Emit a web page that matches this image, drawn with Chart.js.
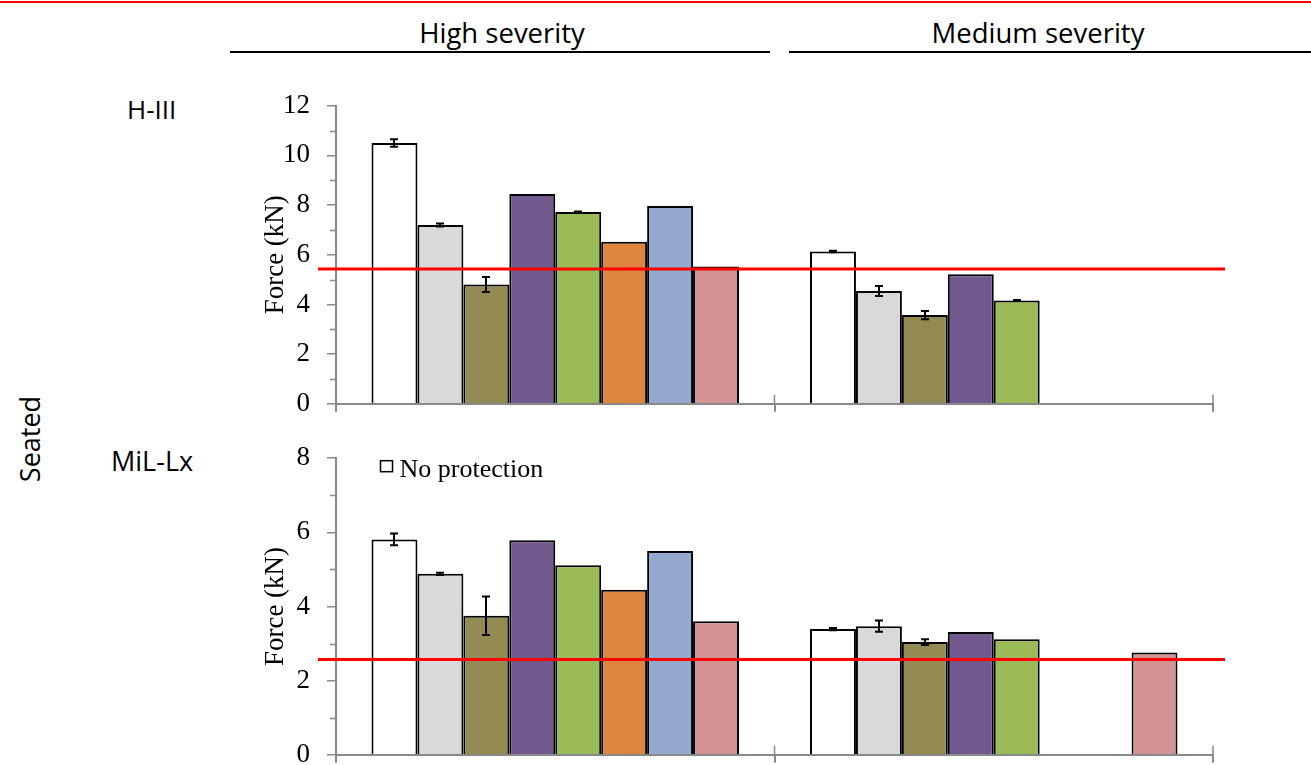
<!DOCTYPE html>
<html>
<head>
<meta charset="utf-8">
<script src="https://cdn.jsdelivr.net/npm/chart.js@4/dist/chart.umd.min.js"></script>
<style>
body{margin:0;background:#fff;width:1311px;height:765px;overflow:hidden;position:relative;font-family:"Open Sans",sans-serif;color:#000;}
.txt{position:absolute;font-size:26px;line-height:1;white-space:nowrap;}
.head{font-size:27.5px;}
.rule{position:absolute;height:2px;background:#000;}
canvas{position:absolute;left:0;}
</style>
</head>
<body>
<div style="position:absolute;left:0;top:1px;width:1311px;height:2px;background:#f00;"></div>
<div class="txt head" style="left:502px;top:19px;transform:translateX(-50%);">High severity</div>
<div class="txt head" style="left:1038px;top:19px;transform:translateX(-50%);">Medium severity</div>
<div class="rule" style="left:230px;top:51px;width:540px;"></div>
<div class="rule" style="left:789px;top:51px;width:522px;"></div>
<div class="txt" style="left:127px;top:96px;">H-III</div>
<div class="txt" style="left:111px;top:447px;font-size:27px;">MiL-Lx</div>
<div class="txt" style="left:29px;top:439px;font-size:27px;transform:translate(-50%,-50%) rotate(-90deg);">Seated</div>

<canvas id="h3Chart" width="1311" height="377" style="top:60px;"></canvas>
<canvas id="milChart" width="1311" height="363" style="top:425px;"></canvas>

<script>
// groups on the x axis
const categories = ["High severity", "Medium severity"];

// one series per protection condition (only the first one is named in the figure)
const seriesLabels = ["No protection", "Condition 2", "Condition 3", "Condition 4",
  "Condition 5", "Condition 6", "Condition 7", "Condition 8"];
const seriesColors = ["#ffffff", "#d9d9d9", "#948a54", "#71598e",
  "#9bbb59", "#dd843f", "#95a9cf", "#d39293"];

// H-III, force in kN
const h3High = [10.5, 7.2, 4.8, 8.45, 7.72, 6.52, 7.96, 5.53];
const h3Medium = [6.13, 4.54, 3.57, 5.22, 4.16, null, null, null];
const h3HighErr = [0.15, 0.06, 0.3, null, 0.02, null, null, null];
const h3MediumErr = [0.03, 0.2, 0.17, null, 0.02, null, null, null];
const h3Limit = 5.43;
const h3YMax = 12;

// MiL-Lx, force in kN
const milHigh = [5.81, 4.88, 3.75, 5.79, 5.11, 4.45, 5.5, 3.6];
const milMedium = [3.39, 3.47, 3.04, 3.31, 3.12, null, null, 2.76];
const milHighErr = [0.16, 0.03, 0.52, null, null, null, null, null];
const milMediumErr = [0.03, 0.15, 0.08, null, null, null, null, null];
const milLimit = 2.57;
const milYMax = 8;

const axisGray = "#898989";
const serif = "'Liberation Serif', 'Times New Roman', serif";

// error bars, minor ticks, threshold line and the small legend
const extras = {
  id: "extras",
  afterDatasetsDraw(chart, args, o) {
    const ctx = chart.ctx, x = chart.scales.x, y = chart.scales.y, ca = chart.chartArea;
    ctx.save();

    ctx.strokeStyle = "#000";
    ctx.lineWidth = 2;
    chart.data.datasets.forEach((ds, di) => {
      const meta = chart.getDatasetMeta(di);
      ds.err.forEach((e, i) => {
        if (e == null || ds.data[i] == null) return;
        const bx = Math.round(meta.data[i].x);
        const y1 = y.getPixelForValue(ds.data[i] + e);
        const y2 = y.getPixelForValue(ds.data[i] - e);
        ctx.beginPath();
        ctx.moveTo(bx, y1); ctx.lineTo(bx, y2);
        ctx.moveTo(bx - 4, y1); ctx.lineTo(bx + 4, y1);
        ctx.moveTo(bx - 4, y2); ctx.lineTo(bx + 4, y2);
        ctx.stroke();
      });
    });

    ctx.strokeStyle = axisGray;
    ctx.lineWidth = 1.5;
    ctx.beginPath();
    for (let v = 1; v < o.yMax; v += 2) {
      const py = Math.round(y.getPixelForValue(v)) + 0.5;
      ctx.moveTo(ca.left - 6, py); ctx.lineTo(ca.left, py);
    }
    const step = x.getPixelForValue(1) - x.getPixelForValue(0);
    categories.forEach((c, i) => {
      const bx = x.getPixelForValue(i) + step / 2;
      ctx.moveTo(bx, ca.bottom - 9); ctx.lineTo(bx, ca.bottom);
    });
    ctx.stroke();

    ctx.strokeStyle = "#ff0000";
    ctx.lineWidth = 3;
    const ly = y.getPixelForValue(o.limit);
    ctx.beginPath();
    ctx.moveTo(ca.left - 18, ly); ctx.lineTo(ca.right + 12, ly);
    ctx.stroke();

    if (o.legend) {
      const ds = chart.data.datasets[0];
      const lx = ca.left + 44.5, ty = ca.top + 2.5;
      ctx.fillStyle = ds.backgroundColor;
      ctx.fillRect(lx, ty, 12, 11);
      ctx.strokeStyle = "#000";
      ctx.lineWidth = 1.5;
      ctx.strokeRect(lx, ty, 12, 11);
      ctx.fillStyle = "#000";
      ctx.font = "26px " + serif;
      ctx.textBaseline = "middle";
      ctx.fillText(ds.label, lx + 19, ty + 9);
    }
    ctx.restore();
  }
};

function makeChart(id, high, medium, highErr, mediumErr, limit, yMax, padTop, padBottom, xHeight, legend) {
  const datasets = seriesLabels.map((lab, i) => ({
    label: lab,
    data: [high[i], medium[i]],
    err: [highErr[i], mediumErr[i]],
    backgroundColor: seriesColors[i],
    borderColor: "#000",
    borderWidth: 2
  }));

  return new Chart(document.getElementById(id), {
    type: "bar",
    data: { labels: categories, datasets: datasets },
    plugins: [extras],
    options: {
      responsive: false,
      animation: false,
      devicePixelRatio: 1,
      layout: { padding: { left: 250, right: 98, top: padTop, bottom: padBottom } },
      datasets: { bar: { categoryPercentage: 0.838, barPercentage: 1 } },
      plugins: {
        legend: { display: false },
        tooltip: { enabled: false },
        extras: { limit: limit, yMax: yMax, legend: legend }
      },
      scales: {
        x: {
          ticks: { display: false },
          grid: { offset: true, drawOnChartArea: false, drawTicks: true, tickLength: 8, color: axisGray, lineWidth: 2 },
          border: { color: axisGray, width: 2 },
          afterFit(s) { s.height = xHeight; }
        },
        y: {
          min: 0,
          max: yMax,
          ticks: { stepSize: 2, padding: 17, color: "#000", font: { family: serif, size: 27 } },
          grid: { drawOnChartArea: false, tickLength: 9, color: axisGray, lineWidth: 1.5 },
          border: { color: axisGray, width: 2 },
          title: { display: true, text: "Force (kN)", color: "#000", font: { family: serif, size: 27 }, padding: { top: 10, bottom: 0 } },
          afterFit(s) { s.width = 86; }
        }
      }
    }
  });
}

makeChart("h3Chart", h3High, h3Medium, h3HighErr, h3MediumErr, h3Limit, h3YMax, 45.7, 0, 10, false);
makeChart("milChart", milHigh, milMedium, milHighErr, milMediumErr, milLimit, milYMax, 32.3, 0, 9, true);
</script>
</body>
</html>
